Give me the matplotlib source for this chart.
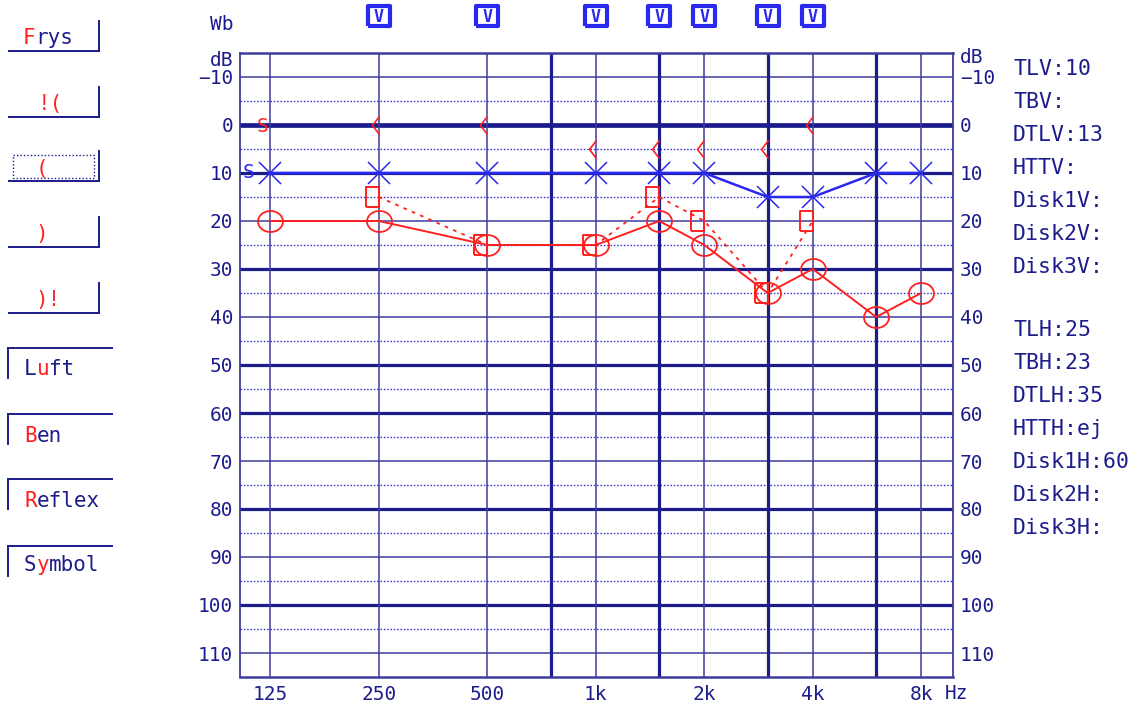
import numpy as np
import matplotlib.pyplot as plt
from matplotlib.path import Path
from matplotlib.ticker import NullLocator
from matplotlib.transforms import blended_transform_factory

plt.rcParams['font.family'] = ['DejaVu Sans Mono']

NAVY = '#1c1c8c'
GRID = '#3c3ca0'
DOT = '#3434c8'
RED = '#ff2020'
BLUE = '#2828ee'

# audiogram values (Hz / dB HL)
freqs = [125, 250, 500, 1000, 1500, 2000, 3000, 4000, 6000, 8000]
left_air = [10, 10, 10, 10, 10, 10, 15, 15, 10, 10]
right_air = [20, 20, 25, 25, 20, 25, 35, 30, 40, 35]
bone_freqs = [250, 500, 1000, 1500, 2000, 3000, 4000]
right_bone_masked = [15, 25, 25, 15, 20, 35, 20]
right_bone = [0, 0, 5, 5, 5, 5, 0]
masked_freqs = [250, 500, 1000, 1500, 2000, 3000, 4000]

xtick_freqs = [125, 250, 500, 1000, 2000, 4000, 8000]
xtick_labels = ['125', '250', '500', '1k', '2k', '4k', '8k']
ytick_vals = list(range(-10, 111, 10))
thin_db = [-10, 20, 40, 70, 90, 110]
thick_db = [10, 30, 50, 60, 80, 100]
half_db = list(range(-5, 106, 10))
thin_freqs = [125, 250, 500, 1000, 2000, 4000, 8000]
thick_freqs = [750, 1500, 3000, 6000]

info_v = ['TLV:10', 'TBV:', 'DTLV:13', 'HTTV:', 'Disk1V:', 'Disk2V:', 'Disk3V:']
info_h = ['TLH:25', 'TBH:23', 'DTLH:35', 'HTTH:ej', 'Disk1H:60', 'Disk2H:', 'Disk3H:']

W, H = 1140, 708
fig = plt.figure(figsize=(W / 100, H / 100), dpi=100)

# pixel-coordinate layer for the side panels
bg = fig.add_axes([0, 0, 1, 1])
bg.set_xlim(0, W)
bg.set_ylim(H, 0)
bg.axis('off')

ax = fig.add_axes([240 / W, 1 - 677 / H, (953 - 240) / W, (677 - 53) / H])
ax.set_xscale('log', base=2)
ax.set_xlim(103, 9800)
ax.set_ylim(115, -15)

for v in half_db:
    ax.axhline(v, color=DOT, lw=1.0, dashes=(1.1, 1.3), zorder=1)
for v in thin_db:
    ax.axhline(v, color=GRID, lw=1.1, zorder=2)
for v in thick_db:
    ax.axhline(v, color=NAVY, lw=2.3, zorder=2)
ax.axhline(0, color=NAVY, lw=3.4, zorder=2)
for f in thin_freqs:
    ax.axvline(f, color=GRID, lw=1.1, zorder=2)
for f in thick_freqs:
    ax.axvline(f, color=NAVY, lw=2.3, zorder=2)

for s in ax.spines.values():
    s.set_color(GRID)
    s.set_linewidth(1.3)
ax.spines['top'].set_linewidth(1.8)
ax.spines['bottom'].set_linewidth(1.8)

# marker shapes
t = np.linspace(0, 2 * np.pi, 41)
ring = Path(np.column_stack([np.cos(t), 0.84 * np.sin(t)]))
box = Path([(-13, -10), (0, -10), (0, 10), (-13, 10), (-13, -10)])
chev = Path([(0, 9), (-7, 0), (0, -9)])
flag = Path([(-10.5, -9), (10.5, -9), (10.5, 9), (-10.5, 9), (-10.5, -9)])

ax.plot(freqs, left_air, color=BLUE, lw=1.8, marker='x', ms=16, mew=1.1, zorder=5)
ax.plot(freqs, right_air, color=RED, lw=1.4, marker=ring, ms=18, mfc='none',
        mew=1.3, zorder=6)
ax.plot(bone_freqs, right_bone_masked, color=RED, lw=1.3, ls=(0, (2, 3)),
        marker=box, ms=18.7, mfc='none', mew=1.4, zorder=6)
ax.plot(bone_freqs, right_bone, ls='none', marker=chev, ms=13, mfc='none',
        mec=RED, mew=1.2, zorder=6)

ax.text(109, 10, 'S', color=BLUE, fontsize=14, ha='center', va='center', zorder=7)
ax.text(119, 0.4, 'S', color=RED, fontsize=14, ha='center', va='center', zorder=7)

# masking flags above the grid
trans = blended_transform_factory(ax.transData, ax.transAxes)
ax.plot(masked_freqs, [1.059] * len(masked_freqs), ls='none', marker=flag, ms=16.5,
        mfc='white', mec=BLUE, mew=3.0, transform=trans, clip_on=False)
for f in masked_freqs:
    ax.text(f, 1.057, 'V', transform=trans, color=BLUE, fontsize=12,
            fontweight='bold', ha='center', va='center', clip_on=False)

ax.set_xticks(xtick_freqs, xtick_labels)
ax.xaxis.set_minor_locator(NullLocator())
ax.set_yticks(ytick_vals)
ax.tick_params(axis='x', length=0, pad=6, labelsize=14, labelcolor=NAVY)
ax.tick_params(axis='y', length=0, pad=5, labelsize=14, labelcolor=NAVY,
               labelleft=True, labelright=True)

txt = dict(color=NAVY, fontsize=14)
bg.text(233, 30, 'Wb', ha='right', va='baseline', **txt)
bg.text(233, 66, 'dB', ha='right', va='baseline', **txt)
bg.text(960, 63, 'dB', ha='left', va='baseline', **txt)
bg.text(957, 699, 'Hz', ha='center', va='baseline', **txt)

for i, s in enumerate(info_v):
    bg.text(1013, 75 + i * 33, s, ha='left', va='baseline', color=NAVY, fontsize=15.5)
for i, s in enumerate(info_h):
    bg.text(1013, 336 + i * 33, s, ha='left', va='baseline', color=NAVY, fontsize=15.5)


def label(x, y, parts, size=15):
    adv = size * 100 / 72 * 0.602
    i = 0
    for s, c in parts:
        bg.text(x + i * adv, y, s, color=c, fontsize=size, ha='left', va='baseline')
        i += len(s)


# upper buttons: bottom + right edge
for yb in [51, 117, 181, 247, 313]:
    bg.plot([9, 99], [yb, yb], color=NAVY, lw=1.4)
    bg.plot([99, 99], [yb - 30, yb], color=NAVY, lw=1.4)
bg.plot([13, 94, 94, 13, 13], [155, 155, 178, 178, 155], color=NAVY, lw=1.0,
        dashes=(1, 1.5))

label(23, 44, [('F', RED), ('rys', NAVY)])
label(38, 110, [('!(', RED)])
label(36, 175, [('(', RED)])
label(35, 240, [(')', RED)])
label(35, 306, [(')!', RED)])

# lower buttons: top + left edge
for yt in [348, 414, 479, 546]:
    bg.plot([8, 112], [yt, yt], color=NAVY, lw=1.4)
    bg.plot([8, 8], [yt, yt + 30], color=NAVY, lw=1.4)

label(24, 375, [('L', NAVY), ('u', RED), ('ft', NAVY)])
label(24, 442, [('B', RED), ('en', NAVY)])
label(24, 507, [('R', RED), ('eflex', NAVY)])
label(24, 571, [('S', NAVY), ('y', RED), ('mbol', NAVY)])

fig.savefig('out.png', dpi=100)
